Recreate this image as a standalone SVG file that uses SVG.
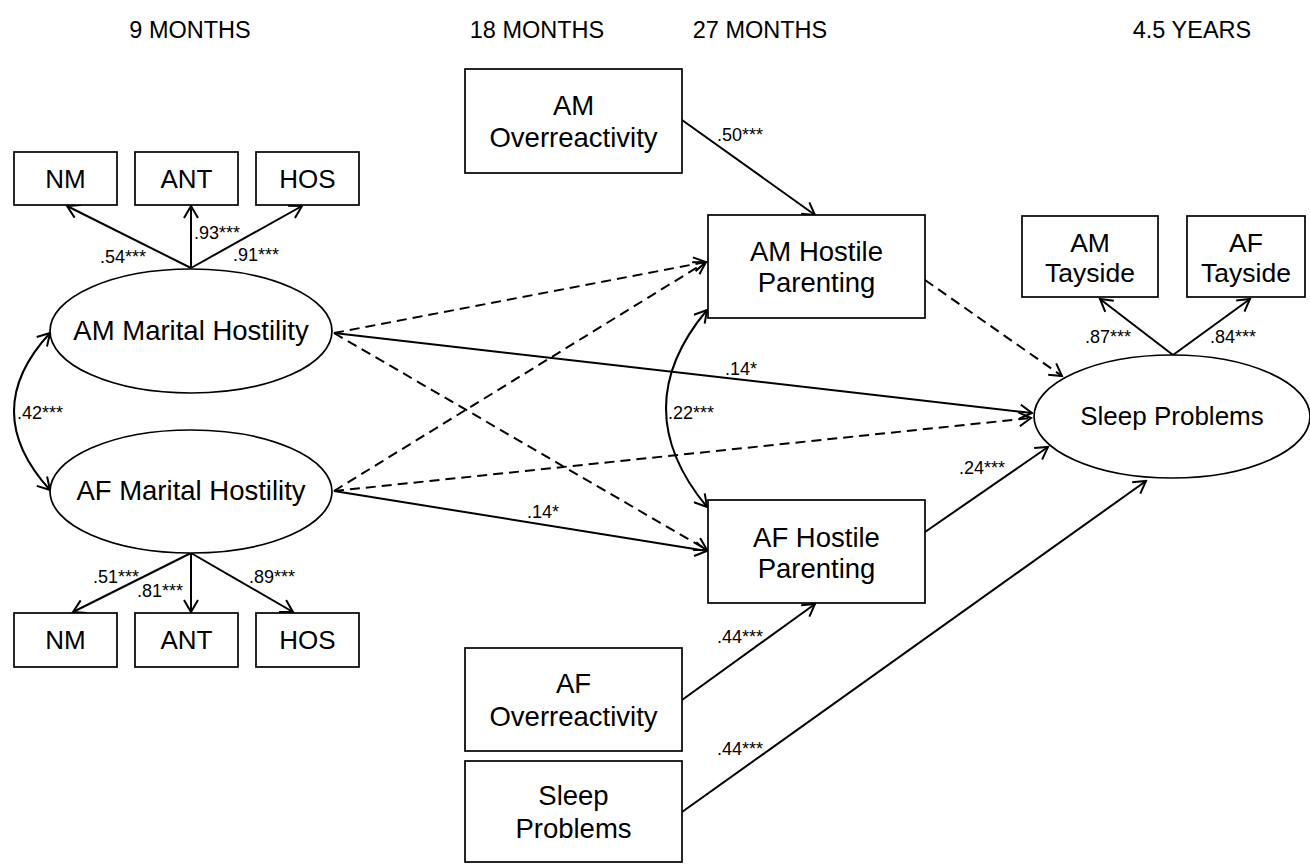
<svg xmlns="http://www.w3.org/2000/svg" width="1310" height="865" viewBox="0 0 1310 865">
<defs>
<marker id="arr" markerUnits="userSpaceOnUse" markerWidth="16" markerHeight="16" viewBox="0 0 16 16" refX="14" refY="8" orient="auto-start-reverse">
<path d="M2,1 L14,8 L2,15" fill="none" stroke="#000" stroke-width="2"/>
</marker>
</defs>
<style>
text{font-family:"Liberation Sans",Arial,sans-serif;fill:#000}
.h{font-size:23.5px;text-anchor:middle}
.n{font-size:27.5px;text-anchor:middle}
.s{font-size:26px;text-anchor:middle}
.t{font-size:26.5px;text-anchor:middle}
.l{font-size:18px}
.box{fill:#fff;stroke:#000;stroke-width:1.7}
.ell{fill:#fff;stroke:#000;stroke-width:1.7}
.c{fill:none;stroke:#000;stroke-width:2;marker-end:url(#arr)}
.d{stroke-dasharray:10 6}
.bi{marker-start:url(#arr)}
</style>
<rect width="1310" height="865" fill="#fff"/>
<g id="headers">
<text class="h" x="190" y="38">9 MONTHS</text>
<text class="h" x="537" y="38">18 MONTHS</text>
<text class="h" x="760" y="38">27 MONTHS</text>
<text class="h" x="1192" y="38">4.5 YEARS</text>
</g>
<g id="connectors">
<line class="c" x1="191" y1="268" x2="67" y2="206"/>
<line class="c" x1="191" y1="268" x2="191" y2="206"/>
<line class="c" x1="191" y1="268" x2="302" y2="206"/>
<line class="c" x1="191" y1="553" x2="73" y2="612"/>
<line class="c" x1="191" y1="553" x2="191" y2="612"/>
<line class="c" x1="191" y1="553" x2="293" y2="612"/>
<path class="c bi" d="M50,333 Q-22,411 50,490"/>
<path class="c bi" d="M707,310 Q625,408 707,507"/>
<line class="c" x1="682" y1="120" x2="815" y2="215"/>
<line class="c d" x1="334" y1="333" x2="706" y2="262"/>
<line class="c d" x1="334" y1="491" x2="706" y2="262"/>
<line class="c d" x1="334" y1="333" x2="707" y2="550"/>
<line class="c" x1="334" y1="491" x2="707" y2="551"/>
<line class="c" x1="334" y1="333" x2="1032" y2="413"/>
<line class="c d" x1="334" y1="491" x2="1031" y2="418"/>
<line class="c d" x1="925" y1="280" x2="1062" y2="376"/>
<line class="c" x1="925" y1="532" x2="1048" y2="447"/>
<line class="c" x1="682" y1="700" x2="815" y2="604"/>
<line class="c" x1="682" y1="812" x2="1146" y2="481"/>
<line class="c" x1="1173" y1="355" x2="1100" y2="299"/>
<line class="c" x1="1173" y1="355" x2="1250" y2="299"/>
</g>
<g id="labels">
<text class="l" x="100" y="263">.54***</text>
<text class="l" x="194" y="239">.93***</text>
<text class="l" x="233" y="261">.91***</text>
<text class="l" x="93" y="583">.51***</text>
<text class="l" x="137" y="597">.81***</text>
<text class="l" x="249" y="583">.89***</text>
<text class="l" x="17" y="419">.42***</text>
<text class="l" x="668" y="419">.22***</text>
<text class="l" x="527" y="518">.14*</text>
<text class="l" x="725" y="375">.14*</text>
<text class="l" x="959" y="474">.24***</text>
<text class="l" x="1085" y="343">.87***</text>
<text class="l" x="1210" y="343">.84***</text>
<text class="l" x="717" y="141">.50***</text>
<text class="l" x="717" y="643">.44***</text>
<text class="l" x="717" y="755">.44***</text>
</g>
<g id="nm-top"><rect class="box" x="14" y="152" width="103" height="53"/><text class="s" x="65.5" y="188">NM</text></g>
<g id="ant-top"><rect class="box" x="135" y="152" width="103" height="53"/><text class="s" x="186.5" y="188">ANT</text></g>
<g id="hos-top"><rect class="box" x="256" y="152" width="103" height="53"/><text class="s" x="307.5" y="188">HOS</text></g>
<g id="am-marital"><ellipse class="ell" cx="191" cy="331" rx="141" ry="62"/><text class="n" x="191" y="340">AM Marital Hostility</text></g>
<g id="af-marital"><ellipse class="ell" cx="191" cy="491.5" rx="141" ry="61.5"/><text class="n" x="191" y="500">AF Marital Hostility</text></g>
<g id="nm-bot"><rect class="box" x="14" y="613" width="103" height="54"/><text class="s" x="65.5" y="649">NM</text></g>
<g id="ant-bot"><rect class="box" x="135" y="613" width="103" height="54"/><text class="s" x="186.5" y="649">ANT</text></g>
<g id="hos-bot"><rect class="box" x="256" y="613" width="103" height="54"/><text class="s" x="307.5" y="649">HOS</text></g>
<g id="am-over"><rect class="box" x="465" y="69" width="217" height="104"/><text class="n" x="573.5" y="115">AM</text><text class="n" x="573.5" y="147">Overreactivity</text></g>
<g id="am-hp"><rect class="box" x="708" y="215" width="217" height="103"/><text class="n" x="816.5" y="261">AM Hostile</text><text class="n" x="816.5" y="292">Parenting</text></g>
<g id="af-hp"><rect class="box" x="708" y="500" width="217" height="103"/><text class="n" x="816.5" y="547">AF Hostile</text><text class="n" x="816.5" y="578">Parenting</text></g>
<g id="af-over"><rect class="box" x="465" y="648" width="217" height="103"/><text class="n" x="573.5" y="693">AF</text><text class="n" x="573.5" y="726">Overreactivity</text></g>
<g id="sleep-box"><rect class="box" x="465" y="761" width="217" height="101"/><text class="n" x="573.5" y="805">Sleep</text><text class="n" x="573.5" y="838">Problems</text></g>
<g id="am-tay"><rect class="box" x="1022" y="216" width="136" height="81"/><text class="t" x="1090" y="252">AM</text><text class="t" x="1090" y="282">Tayside</text></g>
<g id="af-tay"><rect class="box" x="1187" y="216" width="118" height="81"/><text class="t" x="1246" y="252">AF</text><text class="t" x="1246" y="282">Tayside</text></g>
<g id="sleep-ell"><ellipse class="ell" cx="1172" cy="416.5" rx="138" ry="61.5"/><text class="s" x="1172" y="425">Sleep Problems</text></g>
</svg>
